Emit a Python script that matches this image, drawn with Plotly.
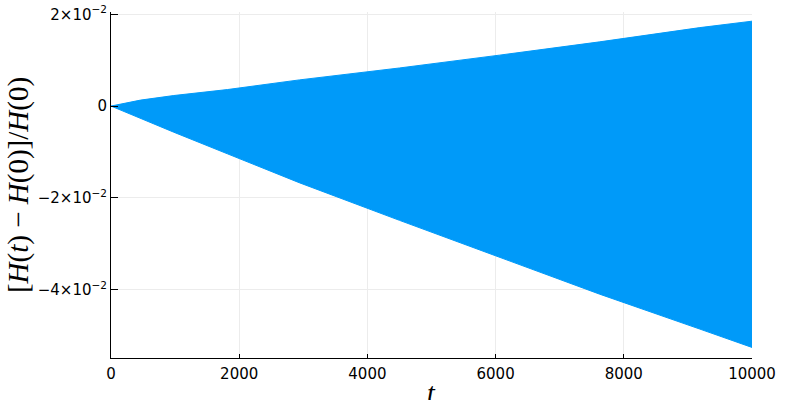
import plotly.graph_objects as go

# Envelope of the (densely oscillating) relative energy error
t_vals = [0, 460, 980, 1816, 2937, 4500, 6062, 7625, 9187, 10000]
upper_vals = [0.0, 0.0013, 0.0023, 0.0036, 0.0057, 0.0083, 0.0111, 0.0140, 0.0171, 0.0185]
lower_vals = [0.0, -0.0027, -0.0057, -0.0104, -0.0167, -0.0249, -0.0330, -0.0410, -0.0486, -0.0526]

x_ticks = [0, 2000, 4000, 6000, 8000, 10000]
x_tick_labels = ["0", "2000", "4000", "6000", "8000", "10000"]
y_ticks = [0.02, 0.0, -0.02, -0.04]
y_tick_labels = ["2×10<sup>−2</sup>", "0", "−2×10<sup>−2</sup>", "−4×10<sup>−2</sup>"]
x_title = "<i>t</i>"
y_title = "[<i>H</i>(<i>t</i>) − <i>H</i>(0)]/<i>H</i>(0)"

color = "#009AF9"

fig = go.Figure()
fig.add_trace(go.Scatter(x=t_vals, y=upper_vals, mode="lines",
                         line=dict(color=color, width=1), showlegend=False,
                         hoverinfo="skip"))
fig.add_trace(go.Scatter(x=t_vals, y=lower_vals, mode="lines",
                         line=dict(color=color, width=1), fill="tonexty",
                         fillcolor=color, showlegend=False, hoverinfo="skip"))

tick_font = dict(family="DejaVu Sans", size=15, color="black")
fig.update_layout(
    width=800, height=400,
    margin=dict(l=111, r=48, t=12, b=42, autoexpand=False),
    paper_bgcolor="white", plot_bgcolor="white",
    xaxis=dict(range=[0, 10000], tickvals=x_ticks, ticktext=x_tick_labels,
               automargin=False, ticklabeloverflow="allow", ticklabelstandoff=2,
               showgrid=True, gridcolor="#ececec", gridwidth=1,
               zeroline=False, showline=True, linecolor="black", linewidth=1,
               ticks="inside", ticklen=4, tickcolor="black",
               tickfont=tick_font),
    yaxis=dict(range=[-0.0549, 0.0205], tickvals=y_ticks, ticktext=y_tick_labels,
               automargin=False, ticklabeloverflow="allow",
               showgrid=True, gridcolor="#ececec", gridwidth=1,
               zeroline=False, showline=True, linecolor="black", linewidth=1,
               ticks="inside", ticklen=7, tickcolor="black",
               tickfont=tick_font,
               title=dict(text=y_title,
                          font=dict(family="Liberation Serif", size=29, color="black"),
                          standoff=0)),
)

fig.add_annotation(text=x_title, xref="paper", yref="paper", x=0.5, y=0,
                   xanchor="center", yanchor="middle", yshift=-34, showarrow=False,
                   font=dict(family="Liberation Serif", size=28, color="black"))

fig.write_html("out.html", config={"displayModeBar": False},
               post_script="document.body.style.margin='0';")
